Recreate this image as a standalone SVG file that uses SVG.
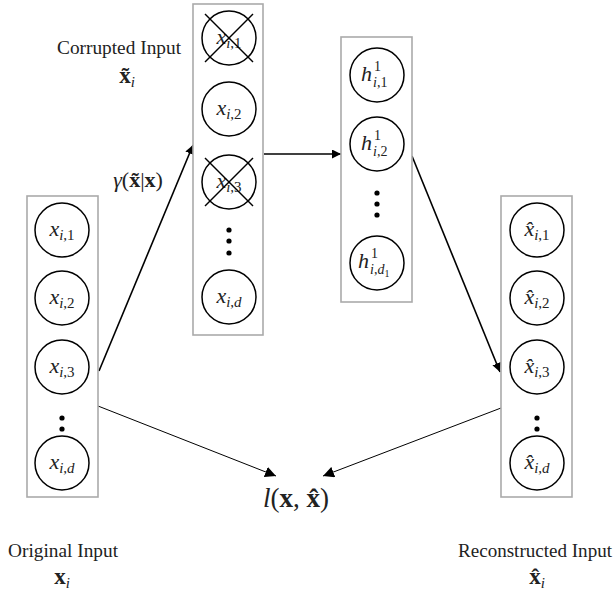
<svg xmlns="http://www.w3.org/2000/svg" width="615" height="591" viewBox="0 0 615 591">
  <defs>
    <style>
      .box { fill: #ffffff; stroke: #aaaaaa; stroke-width: 1.6; }
      .unit { fill: #ffffff; stroke: #000000; stroke-width: 1.5; }
      .cross { stroke: #000000; stroke-width: 1.5; }
      .dot { fill: #000000; }
      .math { font-family: "Liberation Serif", "DejaVu Serif", serif; fill: #222222; }
      .it { font-style: italic; }
      .lbl { font-family: "Liberation Serif", "DejaVu Serif", serif; font-size: 18px; fill: #222222; text-anchor: middle; }
      .edge { stroke: #000000; fill: none; }
      .thick { stroke-width: 1.6; }
      .thin { stroke-width: 1; }
    </style>
    <marker id="head" viewBox="0 0 10 10" refX="10" refY="5" markerWidth="9" markerHeight="9" markerUnits="userSpaceOnUse" orient="auto">
      <path d="M0,0 L10,5 L0,10 z" fill="#000000"/>
    </marker>
    <marker id="headL" viewBox="0 0 10 10" refX="10" refY="5" markerWidth="11" markerHeight="11" markerUnits="userSpaceOnUse" orient="auto">
      <path d="M0,0 L10,5 L0,10 z" fill="#000000"/>
    </marker>
  </defs>

  <!-- connectors -->
  <g id="connectors">
    <line class="edge thick" x1="99" y1="371" x2="193" y2="145" marker-end="url(#head)"/>
    <line class="edge thick" x1="264" y1="154" x2="341" y2="154" marker-end="url(#head)"/>
    <line class="edge thick" x1="412" y1="156" x2="500" y2="372" marker-end="url(#head)"/>
    <line class="edge thin" x1="98" y1="406" x2="276" y2="476" marker-end="url(#headL)"/>
    <line class="edge thin" x1="501" y1="408" x2="323" y2="476" marker-end="url(#headL)"/>
  </g>

  <!-- original input column -->
  <g id="original-input">
    <rect class="box" x="27" y="196" width="71" height="301"/>
    <circle class="unit" cx="62" cy="230" r="27"/>
    <text class="math" x="62" y="236" text-anchor="middle" font-size="22"><tspan class="it">x</tspan><tspan font-size="15" dy="4"><tspan class="it">i</tspan>,1</tspan></text>
    <circle class="unit" cx="62" cy="298" r="27"/>
    <text class="math" x="62" y="304" text-anchor="middle" font-size="22"><tspan class="it">x</tspan><tspan font-size="15" dy="4"><tspan class="it">i</tspan>,2</tspan></text>
    <circle class="unit" cx="62" cy="367" r="27"/>
    <text class="math" x="62" y="373" text-anchor="middle" font-size="22"><tspan class="it">x</tspan><tspan font-size="15" dy="4"><tspan class="it">i</tspan>,3</tspan></text>
    <circle class="dot" cx="62" cy="418" r="2.6"/>
    <circle class="dot" cx="62" cy="429" r="2.6"/>
    <circle class="dot" cx="62" cy="440" r="2.6"/>
    <circle class="unit" cx="62" cy="463" r="27"/>
    <text class="math" x="62" y="469" text-anchor="middle" font-size="22"><tspan class="it">x</tspan><tspan font-size="15" dy="4"><tspan class="it">i</tspan>,<tspan class="it">d</tspan></tspan></text>
  </g>

  <!-- corrupted input column -->
  <g id="corrupted-input">
    <rect class="box" x="193" y="4" width="70" height="331"/>
    <circle class="unit" cx="229" cy="38" r="27"/>
    <text class="math" x="229" y="44" text-anchor="middle" font-size="22"><tspan class="it">x</tspan><tspan font-size="15" dy="4"><tspan class="it">i</tspan>,1</tspan></text>
    <line class="cross" x1="205" y1="14" x2="253" y2="62"/>
    <line class="cross" x1="253" y1="14" x2="205" y2="62"/>
    <circle class="unit" cx="229" cy="109" r="27"/>
    <text class="math" x="229" y="115" text-anchor="middle" font-size="22"><tspan class="it">x</tspan><tspan font-size="15" dy="4"><tspan class="it">i</tspan>,2</tspan></text>
    <circle class="unit" cx="229" cy="182" r="27"/>
    <text class="math" x="229" y="188" text-anchor="middle" font-size="22"><tspan class="it">x</tspan><tspan font-size="15" dy="4"><tspan class="it">i</tspan>,3</tspan></text>
    <line class="cross" x1="205" y1="158" x2="253" y2="206"/>
    <line class="cross" x1="253" y1="158" x2="205" y2="206"/>
    <circle class="dot" cx="229" cy="230" r="2.6"/>
    <circle class="dot" cx="229" cy="241" r="2.6"/>
    <circle class="dot" cx="229" cy="253" r="2.6"/>
    <circle class="unit" cx="229" cy="297" r="27"/>
    <text class="math" x="229" y="303" text-anchor="middle" font-size="22"><tspan class="it">x</tspan><tspan font-size="15" dy="4"><tspan class="it">i</tspan>,<tspan class="it">d</tspan></tspan></text>
  </g>

  <!-- hidden layer column -->
  <g id="hidden-layer">
    <rect class="box" x="341" y="37" width="71" height="265"/>
    <circle class="unit" cx="377" cy="75" r="27"/>
    <text class="math it" x="361" y="81" font-size="22">h</text>
    <text class="math" x="374" y="71" font-size="14">1</text>
    <text class="math" x="373" y="87" font-size="14"><tspan class="it">i</tspan>,1</text>
    <circle class="unit" cx="377" cy="144" r="27"/>
    <text class="math it" x="361" y="150" font-size="22">h</text>
    <text class="math" x="374" y="140" font-size="14">1</text>
    <text class="math" x="373" y="156" font-size="14"><tspan class="it">i</tspan>,2</text>
    <circle class="dot" cx="377" cy="193" r="2.6"/>
    <circle class="dot" cx="377" cy="204" r="2.6"/>
    <circle class="dot" cx="377" cy="215" r="2.6"/>
    <circle class="unit" cx="377" cy="263" r="27"/>
    <text class="math it" x="358" y="268" font-size="22">h</text>
    <text class="math" x="371" y="258" font-size="14">1</text>
    <text class="math" x="370" y="274" font-size="14"><tspan class="it">i</tspan>,<tspan class="it">d</tspan><tspan font-size="10" dy="3">1</tspan></text>
  </g>

  <!-- reconstructed input column -->
  <g id="reconstructed-input">
    <rect class="box" x="501" y="196" width="71" height="301"/>
    <circle class="unit" cx="537" cy="230" r="27"/>
    <text class="math" x="537" y="236" text-anchor="middle" font-size="22"><tspan class="it">x̂</tspan><tspan font-size="15" dy="4"><tspan class="it">i</tspan>,1</tspan></text>
    <circle class="unit" cx="537" cy="298" r="27"/>
    <text class="math" x="537" y="304" text-anchor="middle" font-size="22"><tspan class="it">x̂</tspan><tspan font-size="15" dy="4"><tspan class="it">i</tspan>,2</tspan></text>
    <circle class="unit" cx="537" cy="367" r="27"/>
    <text class="math" x="537" y="373" text-anchor="middle" font-size="22"><tspan class="it">x̂</tspan><tspan font-size="15" dy="4"><tspan class="it">i</tspan>,3</tspan></text>
    <circle class="dot" cx="537" cy="418" r="2.6"/>
    <circle class="dot" cx="537" cy="429" r="2.6"/>
    <circle class="dot" cx="537" cy="440" r="2.6"/>
    <circle class="unit" cx="537" cy="463" r="27"/>
    <text class="math" x="537" y="469" text-anchor="middle" font-size="22"><tspan class="it">x̂</tspan><tspan font-size="15" dy="4"><tspan class="it">i</tspan>,<tspan class="it">d</tspan></tspan></text>
  </g>

  <!-- captions -->
  <g id="captions">
    <text class="lbl" x="119" y="54" textLength="124" lengthAdjust="spacingAndGlyphs">Corrupted Input</text>
    <text class="math" x="127" y="83" text-anchor="middle" font-size="23"><tspan font-weight="bold">x̃</tspan><tspan class="it" font-size="15" dy="4">i</tspan></text>
    <text class="math" x="138" y="187" text-anchor="middle" font-size="22"><tspan class="it">γ</tspan>(<tspan font-weight="bold">x̃</tspan>|<tspan font-weight="bold">x</tspan>)</text>
    <text class="math" x="296" y="507" text-anchor="middle" font-size="27"><tspan class="it">l</tspan>(<tspan font-weight="bold">x</tspan>, <tspan font-weight="bold">x̂</tspan>)</text>
    <text class="lbl" x="63" y="557" textLength="110" lengthAdjust="spacingAndGlyphs">Original Input</text>
    <text class="math" x="62" y="584" text-anchor="middle" font-size="23"><tspan font-weight="bold">x</tspan><tspan class="it" font-size="15" dy="4">i</tspan></text>
    <text class="lbl" x="535" y="557" textLength="154" lengthAdjust="spacingAndGlyphs">Reconstructed Input</text>
    <text class="math" x="537" y="584" text-anchor="middle" font-size="23"><tspan font-weight="bold">x̂</tspan><tspan class="it" font-size="15" dy="4">i</tspan></text>
  </g>
</svg>
